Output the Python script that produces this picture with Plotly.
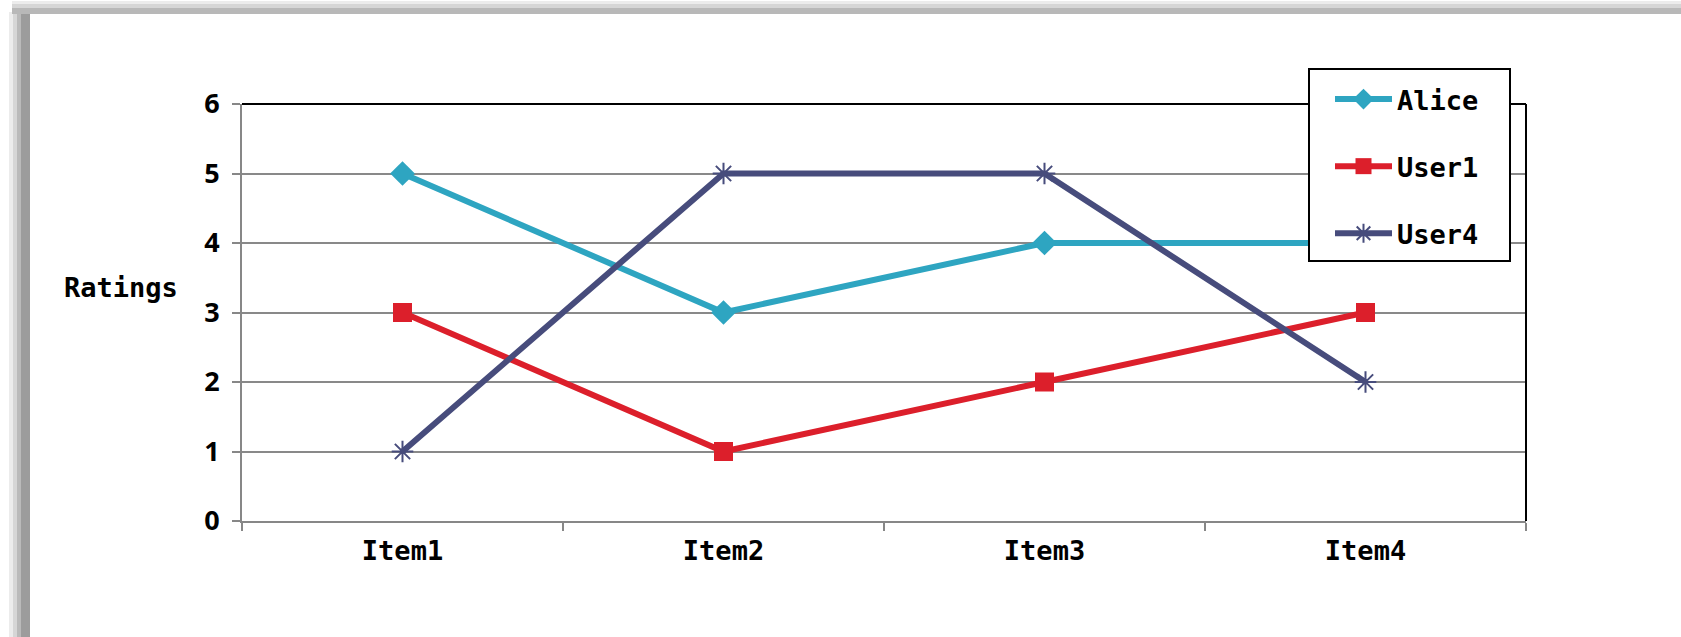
import plotly.graph_objects as go

items = ["Item1", "Item2", "Item3", "Item4"]
alice = [5, 3, 4, 4]
user1 = [3, 1, 2, 3]
user4 = [1, 5, 5, 2]
y_ticks = [0, 1, 2, 3, 4, 5, 6]

W, H = 1681, 637
L, R, T, B = 242, 1526, 104, 521  # plot-area pixel box

def px(x):
    return (x - L) / (R - L)

def py(y):
    return (B - y) / (B - T)

MONO = "DejaVu Sans Mono"
SANS = "Noto Sans"

fig = go.Figure()
fig.add_trace(go.Scatter(x=items, y=alice, name="Alice", mode="lines+markers",
                         line=dict(color="#2EA5C1", width=6),
                         marker=dict(symbol="diamond", size=19, color="#2EA5C1"),
                         legendgroup="a"))
fig.add_trace(go.Scatter(x=items, y=user1, name="User1", mode="lines+markers",
                         line=dict(color="#DC1F2B", width=6),
                         marker=dict(symbol="square", size=19, color="#DC1F2B"),
                         legendgroup="b"))
fig.add_trace(go.Scatter(x=items, y=user4, name="User4", mode="lines+markers",
                         line=dict(color="#474C7C", width=6),
                         marker=dict(symbol="asterisk-open", size=18,
                                     line=dict(color="#474C7C", width=2)),
                         legendgroup="c"))

shapes = []
# card shadow (left and top)
for x0, x1, c in [(9, 13, "#ececec"), (13, 17, "#d6d6d6"), (17, 21, "#bababa"), (21, 30, "#9c9c9c")]:
    shapes.append(dict(type="rect", xref="paper", yref="paper", x0=px(x0), x1=px(x1),
                       y0=py(H), y1=py(12), fillcolor=c, line=dict(width=0), layer="below"))
for y0, y1, c in [(1, 4, "#ececec"), (4, 8, "#d6d6d6"), (8, 14, "#b8b8b8")]:
    shapes.append(dict(type="rect", xref="paper", yref="paper", x0=px(12), x1=px(W),
                       y0=py(y1), y1=py(y0), fillcolor=c, line=dict(width=0), layer="below"))
# black plot-area border top & right
shapes.append(dict(type="line", xref="paper", yref="paper", x0=0, x1=1, y0=1, y1=1,
                   line=dict(color="black", width=2), layer="above"))
shapes.append(dict(type="line", xref="paper", yref="paper", x0=1, x1=1, y0=0, y1=1,
                   line=dict(color="black", width=2), layer="above"))
# legend frame
shapes.append(dict(type="rect", xref="paper", yref="paper", x0=px(1309), x1=px(1510),
                   y0=py(261), y1=py(69), fillcolor="white",
                   line=dict(color="black", width=2), layer="above"))

fig.update_layout(
    width=W, height=H,
    margin=dict(l=L, r=W - R, t=T, b=H - B, autoexpand=False),
    paper_bgcolor="white", plot_bgcolor="white",
    shapes=shapes,
    xaxis=dict(type="category", tickson="boundaries", ticks="outside", ticklen=8,
               tickcolor="#878787", tickwidth=2, showline=True, linecolor="#878787",
               linewidth=2, showgrid=False, range=[-0.5, 3.5],
               tickfont=dict(family=MONO, size=27, color="black", weight=700),
               ticklabelstandoff=5),
    yaxis=dict(range=[0, 6], tickvals=y_ticks, ticks="outside", ticklen=8,
               tickcolor="#878787", tickwidth=2, showline=True, linecolor="#878787",
               linewidth=2, showgrid=True, gridcolor="#898989", gridwidth=2,
               zeroline=False,
               tickfont=dict(family=SANS, size=27, color="black", weight=700),
               ticklabelstandoff=7),
    legend=dict(x=px(1330), y=py(75), xanchor="left", yanchor="top",
                bgcolor="rgba(0,0,0,0)", borderwidth=0, itemwidth=57,
                font=dict(family=MONO, size=27, color="black", weight=700),
                tracegroupgap=29, traceorder="grouped"),
    annotations=[dict(text="Ratings", xref="paper", yref="paper", x=px(121), y=py(287),
                      xanchor="center", yanchor="middle", showarrow=False,
                      font=dict(family=MONO, size=27, color="black", weight=700))],
    showlegend=True,
)

fig.write_html("out.html")
